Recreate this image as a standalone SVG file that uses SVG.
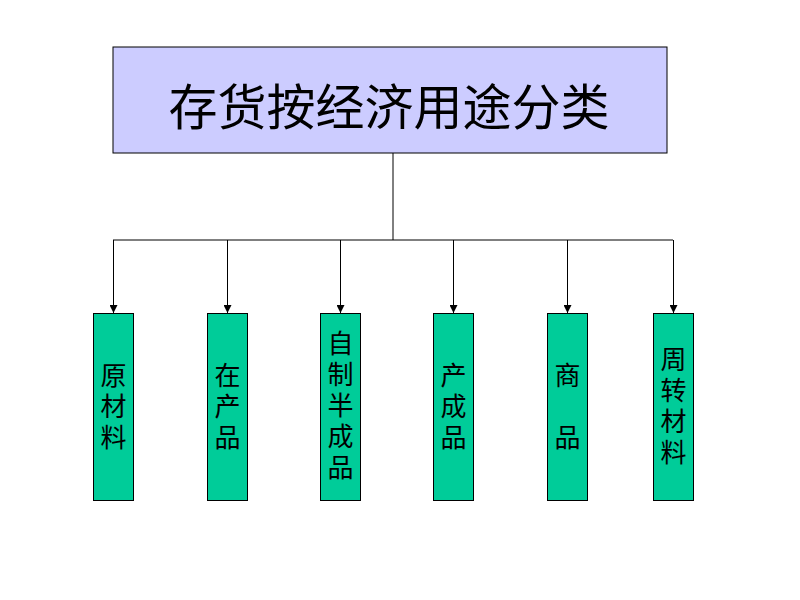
<svg xmlns="http://www.w3.org/2000/svg" width="800" height="600" viewBox="0 0 800 600">
<defs>
<marker id="arr" viewBox="0 0 10 10" refX="10" refY="5" markerWidth="8" markerHeight="8" markerUnits="userSpaceOnUse" orient="auto">
<path d="M0,0 L10,5 L0,10 z" fill="#000"/>
</marker>
<style>
.box{fill:#00CC99;stroke:#000;stroke-width:1}
.t{font-family:"Noto Sans CJK SC","Liberation Sans",sans-serif;font-size:26px;fill:#000;text-anchor:middle;writing-mode:vertical-rl;letter-spacing:5px}
.c{fill:none;stroke:#000;stroke-width:1}
</style>
</defs>
<rect width="800" height="600" fill="#fff"/>
<g id="root">
<rect x="113" y="47" width="554" height="106" fill="#CCCCFF" stroke="#000" stroke-width="1"/>
<text x="389" y="103" style="font-family:'Noto Sans CJK SC','Liberation Sans',sans-serif;font-size:49px;fill:#000;text-anchor:middle;dominant-baseline:central">存货按经济用途分类</text>
</g>
<g id="connectors">
<path class="c" d="M393,153 V240 M113,240 H673"/>
<path class="c" d="M113.5,240 V313" marker-end="url(#arr)"/>
<path class="c" d="M227.5,240 V313" marker-end="url(#arr)"/>
<path class="c" d="M340.5,240 V313" marker-end="url(#arr)"/>
<path class="c" d="M453.5,240 V313" marker-end="url(#arr)"/>
<path class="c" d="M567.5,240 V313" marker-end="url(#arr)"/>
<path class="c" d="M673.5,240 V313" marker-end="url(#arr)"/>
</g>
<g id="n1"><rect class="box" x="93.5" y="313.5" width="40" height="187"/>
<text class="t" x="113.5" y="409">原材料</text></g>
<g id="n2"><rect class="box" x="207.5" y="313.5" width="40" height="187"/>
<text class="t" x="227.5" y="409">在产品</text></g>
<g id="n3"><rect class="box" x="320.5" y="313.5" width="40" height="187"/>
<text class="t" x="340.5" y="408">自制半成品</text></g>
<g id="n4"><rect class="box" x="433.5" y="313.5" width="40" height="187"/>
<text class="t" x="453.5" y="409">产成品</text></g>
<g id="n5"><rect class="box" x="547.5" y="313.5" width="40" height="187"/>
<text class="t" x="567.5" y="409">商　品</text></g>
<g id="n6"><rect class="box" x="653.5" y="313.5" width="40" height="187"/>
<text class="t" x="673.5" y="408">周转材料</text></g>
</svg>
